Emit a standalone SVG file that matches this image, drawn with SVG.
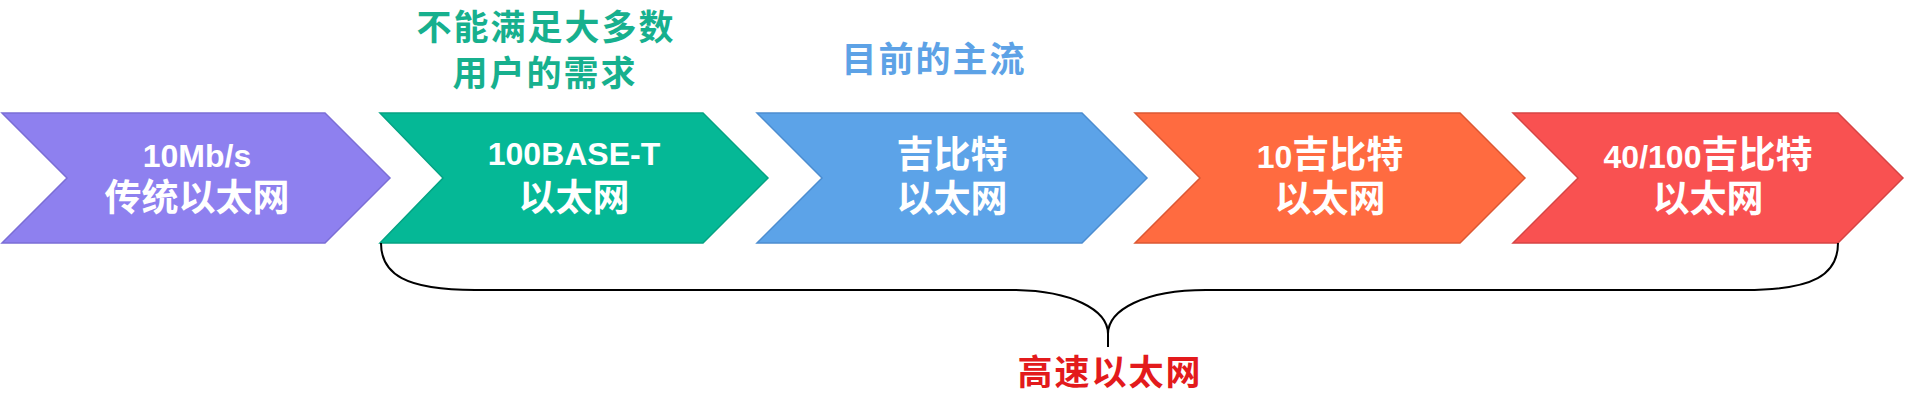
<svg xmlns="http://www.w3.org/2000/svg" width="1905" height="400" viewBox="0 0 1905 400">
<style>
.chev{stroke-width:1.5}
.t{font-family:'Liberation Sans','Noto Sans CJK SC',sans-serif;font-weight:bold;fill:#fff;text-anchor:middle}
.lat{font-size:32px}
.cjk{font-size:37px}
.lbl{font-family:'Noto Sans CJK SC',sans-serif;font-weight:bold;font-size:35px;letter-spacing:2px;text-anchor:middle}
</style>
<rect width="1905" height="400" fill="#fff"/>
<g id="n1">
<polygon class="chev" points="2,113 325,113 390,178 325,243 2,243 67,178" fill="#8E80EF" stroke="#7B6ED6"/>
<text class="t" x="197" y="167"><tspan class="lat">10Mb/s</tspan></text>
<text class="t cjk" x="197" y="211">传统以太网</text>
</g>
<g id="n2">
<polygon class="chev" points="380,113 703,113 768,178 703,243 380,243 443,178" fill="#05B896" stroke="#04A383"/>
<text class="t lat" x="574" y="165">100BASE-T</text>
<text class="t cjk" x="574" y="211">以太网</text>
</g>
<g id="n3">
<polygon class="chev" points="757,113 1082,113 1147,178 1082,243 757,243 822,178" fill="#5CA3E8" stroke="#4C8DD0"/>
<text class="t cjk" x="952" y="168">吉比特</text>
<text class="t cjk" x="952" y="212">以太网</text>
</g>
<g id="n4">
<polygon class="chev" points="1135,113 1460,113 1525,178 1460,243 1135,243 1200,178" fill="#FF6B40" stroke="#DC5833"/>
<text class="t cjk" x="1330" y="168"><tspan class="lat">10</tspan>吉比特</text>
<text class="t cjk" x="1330" y="212">以太网</text>
</g>
<g id="n5">
<polygon class="chev" points="1513,113 1838,113 1903,178 1838,243 1513,243 1578,178" fill="#F95151" stroke="#D64444"/>
<text class="t cjk" x="1708" y="168"><tspan class="lat">40/100</tspan>吉比特</text>
<text class="t cjk" x="1708" y="212">以太网</text>
</g>
<g id="labels">
<text class="lbl" x="546" y="40" fill="#17B08E">不能满足大多数</text>
<text class="lbl" x="545" y="86" fill="#17B08E">用户的需求</text>
<text class="lbl" x="934" y="72" fill="#5DA2E6">目前的主流</text>
<text class="lbl" x="1110" y="385" fill="#E31A1C">高速以太网</text>
</g>
<g id="connectors" fill="none" stroke="#000" stroke-width="2">
<path d="M381,243 C381,274 405,290 475,290 L1010,290 C1072,290 1108,310 1108,334 L1108,347 M1108,334 C1108,310 1144,290 1206,290 L1745,290 C1815,290 1838,274 1838,243"/>
</g>
</svg>
